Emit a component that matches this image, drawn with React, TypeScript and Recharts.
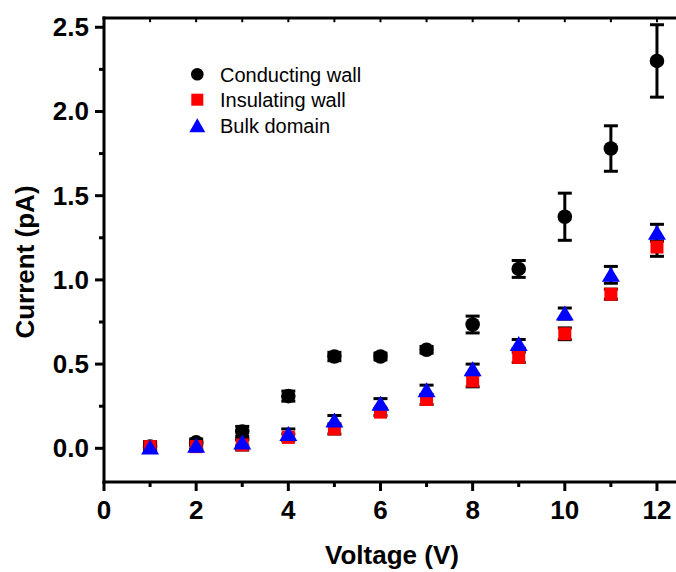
import { ScatterChart, Scatter, XAxis, YAxis, ErrorBar, Legend, Label, ReferenceLine } from 'recharts';

const voltage = [1, 2, 3, 4, 5, 6, 7, 8, 9, 10, 11, 12];
const conducting = [0.01, 0.035, 0.1, 0.31, 0.545, 0.545, 0.585, 0.735, 1.065, 1.375, 1.78, 2.3];
const conductingErr = [0.03, 0.02, 0.03, 0.03, 0.025, 0.02, 0.02, 0.05, 0.05, 0.14, 0.135, 0.215];
const insulating = [0.01, 0.01, 0.02, 0.065, 0.115, 0.215, 0.29, 0.4, 0.54, 0.68, 0.915, 1.195];
const insulatingErr = [0.02, 0.02, 0.03, 0.02, 0.03, 0.02, 0.03, 0.035, 0.03, 0.035, 0.03, 0.055];
const bulk = [0.005, 0.015, 0.035, 0.085, 0.165, 0.265, 0.345, 0.47, 0.62, 0.8, 1.03, 1.28];
const bulkErr = [0.02, 0.02, 0.02, 0.03, 0.03, 0.03, 0.03, 0.03, 0.026, 0.033, 0.05, 0.05];

const seriesNames = ['Conducting wall', 'Insulating wall', 'Bulk domain'];
const xTicks = [0, 1, 2, 3, 4, 5, 6, 7, 8, 9, 10, 11, 12];
const topTicks = [1, 2, 3, 4, 5, 6, 7, 8, 9, 10, 11, 12];
const yTicks = [0, 0.25, 0.5, 0.75, 1, 1.25, 1.5, 1.75, 2, 2.25, 2.5];
const yMax = 2.555;
const topTickLen = 0.025;

const toRows = (vals: number[], errs: number[]) => voltage.map((x, i) => ({ x, y: vals[i], err: errs[i] }));

const FONT = '"Liberation Sans", Arial, sans-serif';

const Circle = (p: any) => <circle cx={p.cx} cy={p.cy} r={7.3} fill="#000" />;
const Square = (p: any) => <rect x={p.cx - 6.5} y={p.cy - 6.5} width={13} height={13} fill="#ff0000" />;
const Triangle = (p: any) => (
  <polygon points={`${p.cx},${p.cy - 8} ${p.cx - 9},${p.cy + 7} ${p.cx + 9},${p.cy + 7}`} fill="#0000ff" />
);

const BottomTick = (p: any) => {
  const v = p.payload.value;
  const major = v % 2 === 0;
  return (
    <g>
      <line x1={p.x} x2={p.x} y1={p.y} y2={p.y + (major ? 9 : 5)} stroke="#000" strokeWidth={3} />
      {major && (
        <text x={p.x} y={p.y + 36.5} textAnchor="middle" fontFamily={FONT} fontWeight="bold" fontSize={26} fill="#000">
          {v}
        </text>
      )}
    </g>
  );
};

const LeftTick = (p: any) => {
  const v = p.payload.value;
  const major = Math.abs(v * 2 - Math.round(v * 2)) < 1e-6;
  return (
    <g>
      <line x1={p.x} x2={p.x - (major ? 9 : 5)} y1={p.y} y2={p.y} stroke="#000" strokeWidth={3} />
      {major && (
        <text x={p.x - 15} y={p.y + 9} textAnchor="end" fontFamily={FONT} fontWeight="bold" fontSize={26} fill="#000">
          {v.toFixed(1)}
        </text>
      )}
    </g>
  );
};

const markers: Record<string, (x: number, y: number) => any> = {
  'Conducting wall': (x, y) => <circle cx={x} cy={y} r={6.3} fill="#000" />,
  'Insulating wall': (x, y) => <rect x={x - 6} y={y - 6} width={12} height={12} fill="#ff0000" />,
  'Bulk domain': (x, y) => <polygon points={`${x},${y - 7} ${x - 8},${y + 7} ${x + 8},${y + 7}`} fill="#0000ff" />,
};

const LegendBox = (props: any) => {
  const items = [...(props.payload || [])].sort(
    (a: any, b: any) => seriesNames.indexOf(a.value) - seriesNames.indexOf(b.value)
  );
  return (
    <svg width={220} height={90} style={{ display: 'block' }}>
      {items.map((it: any, i: number) => {
        const base = 26.7 + i * 25.5;
        const draw = markers[it.value];
        return (
          <g key={it.value}>
            {draw && draw(17.3, base - 7.5)}
            <text x={40} y={base} fontFamily={FONT} fontSize={20} fill="#000">
              {it.value}
            </text>
          </g>
        );
      })}
    </svg>
  );
};

export default function App() {
  return (
    <div style={{ position: 'absolute', left: 0, top: 0, width: 676, height: 572, overflow: 'hidden', background: '#fff' }}>
      <ScatterChart width={690} height={572} margin={{ top: 18, right: 10, bottom: 0, left: 0 }}>
        <XAxis
          type="number"
          dataKey="x"
          domain={[0, 12.5]}
          ticks={xTicks}
          interval={0}
          tickSize={0}
          tickMargin={0}
          tickLine={false}
          tick={BottomTick}
          height={90}
          allowDataOverflow
          axisLine={{ stroke: '#000', strokeWidth: 3, strokeLinecap: 'square' }}
        >
          <Label
            content={() => (
              <text x={392} y={564} textAnchor="middle" fontFamily={FONT} fontWeight="bold" fontSize={26} fill="#000">
                Voltage (V)
              </text>
            )}
          />
        </XAxis>
        <YAxis
          type="number"
          dataKey="y"
          domain={[-0.2, yMax]}
          ticks={yTicks}
          interval={0}
          tickSize={0}
          tickMargin={0}
          tickLine={false}
          tick={LeftTick}
          width={104}
          allowDataOverflow
          axisLine={{ stroke: '#000', strokeWidth: 3, strokeLinecap: 'square' }}
        >
          <Label
            content={() => (
              <text
                x={34}
                y={262}
                transform="rotate(-90, 34, 262)"
                textAnchor="middle"
                fontFamily={FONT}
                fontWeight="bold"
                fontSize={26}
                fill="#000"
              >
                Current (pA)
              </text>
            )}
          />
        </YAxis>
        <ReferenceLine y={yMax} stroke="#000" strokeWidth={3} strokeLinecap="square" ifOverflow="visible" />
        {topTicks.map((t) => (
          <ReferenceLine
            key={t}
            segment={[
              { x: t, y: yMax },
              { x: t, y: yMax - topTickLen },
            ]}
            stroke="#000"
            strokeWidth={2}
            ifOverflow="visible"
          />
        ))}
        <Legend
          layout="vertical"
          align="center"
          verticalAlign="middle"
          content={LegendBox}
          wrapperStyle={{ left: 180, top: 55, width: 220, height: 90 }}
        />
        <Scatter name="Conducting wall" data={toRows(conducting, conductingErr)} fill="#000" shape={Circle} isAnimationActive={false}>
          <ErrorBar dataKey="err" direction="y" width={7} strokeWidth={3} stroke="#000" isAnimationActive={false} />
        </Scatter>
        <Scatter name="Insulating wall" data={toRows(insulating, insulatingErr)} fill="#ff0000" shape={Square} isAnimationActive={false}>
          <ErrorBar dataKey="err" direction="y" width={7} strokeWidth={3} stroke="#000" isAnimationActive={false} />
        </Scatter>
        <Scatter name="Bulk domain" data={toRows(bulk, bulkErr)} fill="#0000ff" shape={Triangle} isAnimationActive={false}>
          <ErrorBar dataKey="err" direction="y" width={7} strokeWidth={3} stroke="#000" isAnimationActive={false} />
        </Scatter>
      </ScatterChart>
    </div>
  );
}
